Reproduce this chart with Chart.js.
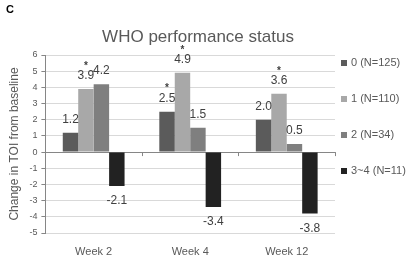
<!DOCTYPE html>
<html>
<head>
<meta charset="utf-8">
<script src="https://cdn.jsdelivr.net/npm/chart.js@4/dist/chart.umd.min.js"></script>
<style>
  html, body { margin: 0; padding: 0; background: #fff; }
  #wrap { position: relative; width: 410px; height: 259px; }
</style>
</head>
<body>
<div id="wrap"><canvas id="chart" width="410" height="259"></canvas></div>
<script>
// chart data
const weeks = ['Week 2', 'Week 4', 'Week 12'];
const groupNames = ['0 (N=125)', '1 (N=110)', '2 (N=34)', '3~4 (N=11)'];
const who0 = [1.2, 2.5, 2.0];
const who1 = [3.9, 4.9, 3.6];
const who2 = [4.2, 1.5, 0.5];
const who34 = [-2.1, -3.4, -3.8];
// significance markers (true = asterisk above bar)
const star0 = [false, true, false];
const star1 = [true, true, true];
const star2 = [false, false, false];
const star34 = [false, false, false];
const yTicks = [-5, -4, -3, -2, -1, 0, 1, 2, 3, 4, 5, 6];

const barColors = ['#5b5b5b', '#a8a8a8', '#7f7f7f', '#222222'];
const allValues = [who0, who1, who2, who34];
const allStars = [star0, star1, star2, star34];
const FONT = '"Liberation Sans", Arial, sans-serif';

// title, value labels, asterisks, legend and panel letter
const labelPlugin = {
    id: 'labelPlugin',
    afterDatasetsDraw(chart) {
        const ctx = chart.ctx;
        ctx.save();
        ctx.textAlign = 'center';
        ctx.textBaseline = 'middle';
        ctx.fillStyle = '#595959';
        ctx.font = '17px ' + FONT;
        ctx.fillText('WHO performance status', 198, 37);

        ctx.font = '12px ' + FONT;
        ctx.fillStyle = '#404040';
        chart.data.datasets.forEach((ds, i) => {
            const meta = chart.getDatasetMeta(i);
            meta.data.forEach((bar, j) => {
                const v = ds.data[j];
                const y = v >= 0 ? bar.y - 13 : bar.y + 15;
                ctx.fillText(v.toFixed(1), bar.x, y);
                if (allStars[i][j]) {
                    ctx.font = 'bold 10px ' + FONT;
                    ctx.fillText('*', bar.x, y - 10);
                    ctx.font = '12px ' + FONT;
                }
            });
        });
        // small tick marks across the zero line at category boundaries
        const xs = chart.scales.x, ys = chart.scales.y;
        const y0 = ys.getPixelForValue(0);
        const step = xs.getPixelForValue(1) - xs.getPixelForValue(0);
        ctx.strokeStyle = '#868686';
        ctx.lineWidth = 1;
        for (let k = 0; k < weeks.length; k++) {
            const xb = Math.round(xs.getPixelForValue(k) + step / 2) + 0.5;
            ctx.beginPath();
            ctx.moveTo(xb, y0);
            ctx.lineTo(xb, y0 + 4);
            ctx.stroke();
        }
        // legend
        const lx = chart.chartArea.right + 6;
        ctx.textAlign = 'left';
        ctx.font = '11px ' + FONT;
        groupNames.forEach((name, i) => {
            const ly = 63 + i * 36;
            ctx.fillStyle = barColors[i];
            ctx.fillRect(lx, ly - 3, 6, 6);
            ctx.fillStyle = '#595959';
            ctx.fillText(name, lx + 10, ly);
        });
        // panel letter
        ctx.fillStyle = '#000';
        ctx.font = 'bold 11px ' + FONT;
        ctx.fillText('C', 6, 10);
        ctx.restore();
    }
};

new Chart(document.getElementById('chart').getContext('2d'), {
    type: 'bar',
    data: {
        labels: weeks,
        datasets: groupNames.map((name, i) => ({
            label: name,
            data: allValues[i],
            backgroundColor: barColors[i],
            borderWidth: 0
        }))
    },
    options: {
        responsive: false,
        animation: false,
        layout: { padding: { left: 7, right: 75, top: 55, bottom: 2 } },
        datasets: { bar: { categoryPercentage: 0.64, barPercentage: 1.0 } },
        plugins: {
            title: { display: false },
            legend: { display: false },
            tooltip: { enabled: false }
        },
        scales: {
            x: {
                grid: { display: false, drawTicks: false },
                border: { display: false },
                afterFit: (scale) => { scale.height = 24; },
                ticks: {
                    color: '#595959',
                    padding: 12,
                    font: { family: FONT, size: 11 }
                }
            },
            y: {
                min: -5,
                max: 6,
                afterBuildTicks: (axis) => { axis.ticks = yTicks.map(v => ({ value: v })); },
                grid: {
                    color: (c) => c.tick && c.tick.value === 0 ? '#868686' : '#d9d9d9',
                    tickColor: '#868686',
                    tickLength: 4
                },
                border: { display: true, color: '#868686' },
                ticks: {
                    color: '#595959',
                    padding: 4,
                    font: { family: FONT, size: 9 }
                },
                title: {
                    display: true,
                    text: 'Change in TOI from baseline',
                    color: '#595959',
                    padding: { top: 0, bottom: 4 },
                    font: { family: FONT, size: 12 }
                }
            }
        }
    },
    plugins: [labelPlugin]
});
</script>
</body>
</html>
